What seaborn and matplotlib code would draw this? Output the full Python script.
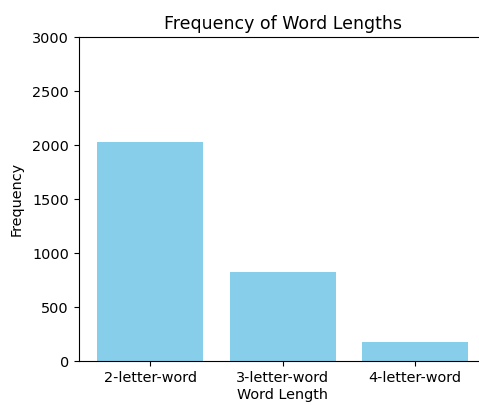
import matplotlib
matplotlib.use('Agg')
import matplotlib.pyplot as plt
import seaborn as sns
import pandas as pd

# 数据
word_lengths = ['2-letter-word', '3-letter-word', '4-letter-word']
frequencies = [2025, 823, 178]

df = pd.DataFrame({'Word Length': word_lengths, 'Frequency': frequencies})

plt.rcParams['font.size'] = 10.4

fig = plt.figure(figsize=(4.79, 4.05), dpi=100)
# 原图右侧被裁掉, 所以坐标轴伸出画布
ax = fig.add_axes([0.164, 0.1086, 0.852, 0.80])

sns.barplot(ax=ax, data=df, x='Word Length', y='Frequency', color='skyblue',
            saturation=1, width=0.8)

ax.set_xlim(-0.54, 2.54)
ax.set_ylim(0, 3000)
ax.set_yticks(range(0, 3001, 500))
ax.spines['right'].set_visible(False)
ax.set_title('Frequency of Word Lengths', fontsize=12.5)
ax.set_xlabel('Word Length', labelpad=2)
ax.set_ylabel('Frequency', labelpad=6)

plt.savefig('out.png', dpi=100)
